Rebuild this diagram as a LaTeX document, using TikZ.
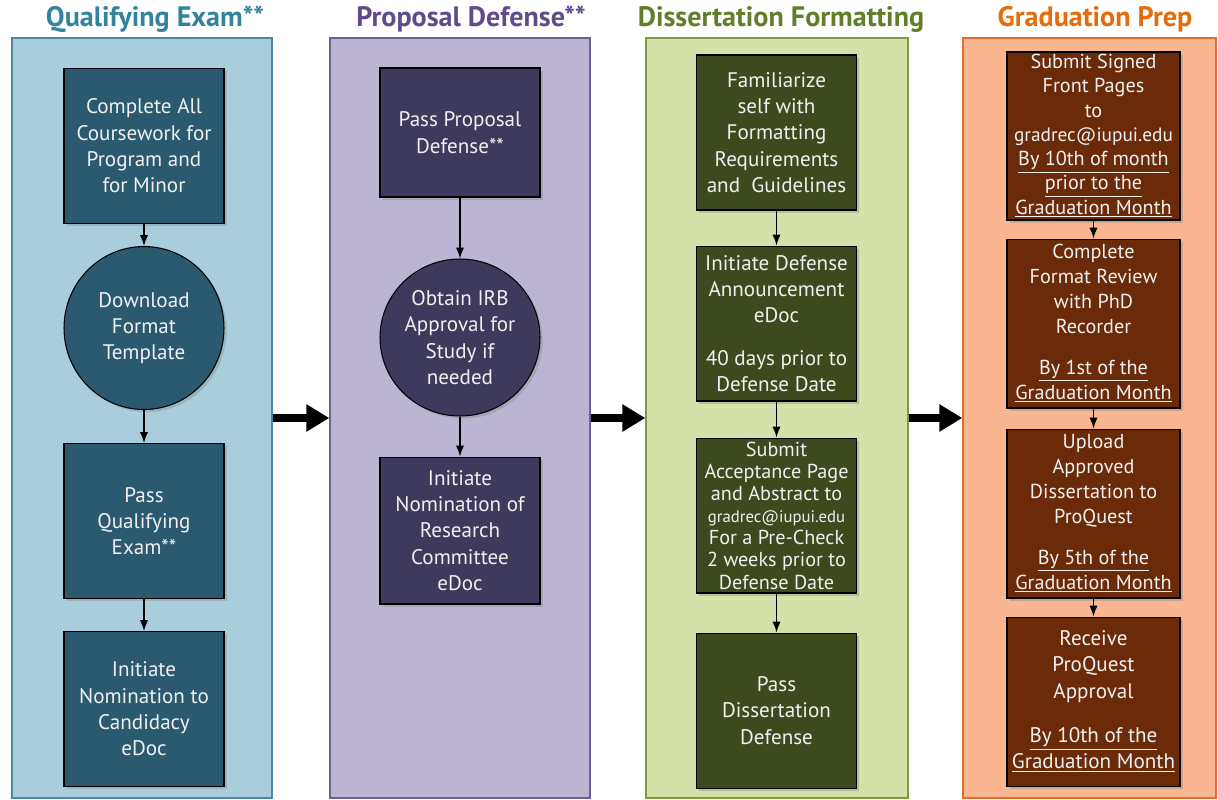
\documentclass[tikz,border=0pt]{standalone}
\usepackage{fontspec}
\setmainfont{PT Sans}
\usetikzlibrary{arrows.meta,positioning,shapes.geometric,shadows}

\definecolor{qpale}{HTML}{A9CDDC}
\definecolor{qedge}{HTML}{4F86A6}
\definecolor{qdark}{HTML}{2A5970}
\definecolor{qhead}{HTML}{31849B}
\definecolor{ppale}{HTML}{BBB5D3}
\definecolor{pedge}{HTML}{6A6096}
\definecolor{pdark}{HTML}{3E3A5E}
\definecolor{phead}{HTML}{5F4B8B}
\definecolor{dpale}{HTML}{D4E1A8}
\definecolor{dedge}{HTML}{7E9A3A}
\definecolor{ddark}{HTML}{3D4A1D}
\definecolor{dhead}{HTML}{5F7F2A}
\definecolor{gpale}{HTML}{FAB690}
\definecolor{gedge}{HTML}{E36C2A}
\definecolor{gdark}{HTML}{6B2A08}
\definecolor{ghead}{HTML}{E46C0A}

\begin{document}
\begin{tikzpicture}[
    x=0.02cm, y=-0.02cm,
    every node/.style={font=\fontsize{12}{15}\selectfont},
    panel/.style={draw, line width=0.8pt, minimum width=5.2cm, minimum height=15.2cm},
    task/.style={draw=black, line width=0.6pt, align=center, text=white!94!black, minimum width=3.2cm, minimum height=3.1cm, inner sep=1pt, drop shadow={opacity=0.35, shadow xshift=1.5pt, shadow yshift=-1.5pt}},
    roundtask/.style={task, ellipse, inner sep=0pt},
    gtask/.style={task, fill=gdark, minimum width=3.46cm, minimum height=3.38cm, font=\fontsize{11.5}{14.2}\selectfont},
    title/.style={font=\fontsize{16}{18}\selectfont\bfseries},
    flow/.style={-{Latex[length=2.2mm]}, thick},
    advance/.style={-{Triangle[length=0.46cm, width=0.52cm]}, line width=4.5pt}
]
\useasboundingbox (0,0) rectangle (1218,800);

% phases
\node[panel, fill=qpale, draw=qedge] (qpanel) at (142,418) {};
\node[panel, fill=ppale, draw=pedge] (ppanel) at (460,418) {};
\node[panel, fill=dpale, draw=dedge, minimum width=5.24cm] (dpanel) at (777,418) {};
\node[panel, fill=gpale, draw=gedge, minimum width=5.06cm] (gpanel) at (1089.5,418) {};
\node[title, text=qhead] (qtitle) at (155,19) {Qualifying Exam**};
\node[title, text=phead] (ptitle) at (471,19) {Proposal Defense**};
\node[title, text=dhead] (dtitle) at (781,19) {Dissertation Formatting};
\node[title, text=ghead] (gtitle) at (1095,19) {Graduation Prep};
\draw[advance] (qpanel.east) -- (ppanel.west);
\draw[advance] (ppanel.east) -- (dpanel.west);
\draw[advance] (dpanel.east) -- (gpanel.west);

% qualifying exam
\node[task, fill=qdark] (qcourse) at (144,146) {Complete All\\Coursework for\\Program and\\for Minor};
\node[roundtask, fill=qdark, minimum width=3.2cm, minimum height=3.26cm, below=0.44cm of qcourse] (qtemplate) {Download\\Format\\Template};
\node[task, fill=qdark, below=0.66cm of qtemplate] (qexam) {Pass\\Qualifying\\Exam**};
\node[task, fill=qdark, below=0.64cm of qexam] (qnominate) {Initiate\\Nomination to\\Candidacy\\eDoc};
\draw[flow] (qcourse) -- (qtemplate);
\draw[flow] (qtemplate) -- (qexam);
\draw[flow] (qexam) -- (qnominate);

% proposal defense
\node[task, fill=pdark, minimum height=2.58cm] (pdefense) at (460,132.5) {Pass Proposal\\Defense**};
\node[roundtask, fill=pdark, minimum width=3.2cm, minimum height=3.14cm, below=1.22cm of pdefense] (pirb) {Obtain IRB\\Approval for\\Study if\\needed};
\node[task, fill=pdark, minimum height=2.94cm, below=0.8cm of pirb] (pcommittee) {Initiate\\Nomination of\\Research\\Committee\\eDoc};
\draw[flow] (pdefense) -- (pirb);
\draw[flow] (pirb) -- (pcommittee);

% dissertation formatting
\node[task, fill=ddark] (dguide) at (776.5,132.5) {Familiarize\\self with\\Formatting\\Requirements\\and~~Guidelines};
\node[task, fill=ddark, below=0.7cm of dguide] (dannounce) {Initiate Defense\\Announcement\\eDoc\\[9pt]40 days prior to\\Defense Date};
\node[task, fill=ddark, below=0.72cm of dannounce, font=\fontsize{11.5}{12.6}\selectfont] (dcheck) {Submit\\Acceptance Page\\and Abstract to\\{\fontsize{9.5}{12.6}\selectfont gradrec@iupui.edu}\\For a Pre-Check\\2 weeks prior to\\Defense Date};
\node[task, fill=ddark, below=0.78cm of dcheck] (ddefense) {Pass\\Dissertation\\Defense};
\draw[flow] (dguide) -- (dannounce);
\draw[flow] (dannounce) -- (dcheck);
\draw[flow] (dcheck) -- (ddefense);

% graduation prep
\node[gtask, minimum height=3.36cm, font=\fontsize{11.5}{13.8}\selectfont] (gpages) at (1093.5,136) {Submit Signed\\Front Pages\\to\\{\fontsize{11}{13.8}\selectfont gradrec@iupui.edu}\\\underline{By 10th of month}\\\underline{prior to the}\\\underline{Graduation Month}};
\node[gtask, below=0.36cm of gpages] (greview) {Complete\\Format Review\\with PhD\\Recorder\\[9pt]\underline{By 1st of the}\\\underline{Graduation Month}};
\node[gtask, below=0.4cm of greview] (gupload) {Upload\\Approved\\Dissertation to\\ProQuest\\[9pt]\underline{By 5th of the}\\\underline{Graduation Month}};
\node[gtask, below=0.36cm of gupload, font=\fontsize{12}{15}\selectfont] (gapproval) {Receive\\ProQuest\\Approval\\[10pt]\underline{By 10th of the}\\\underline{Graduation Month}};
\draw[flow] (gpages) -- (greview);
\draw[flow] (greview) -- (gupload);
\draw[flow] (gupload) -- (gapproval);
\end{tikzpicture}
\end{document}
